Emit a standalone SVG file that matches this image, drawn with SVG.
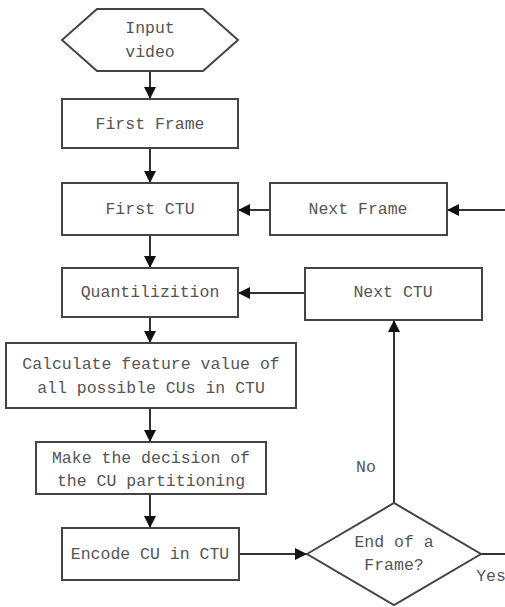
<svg xmlns="http://www.w3.org/2000/svg" width="505" height="607" viewBox="0 0 505 607">
<defs>
<marker id="arr" markerUnits="userSpaceOnUse" markerWidth="12" markerHeight="12" viewBox="0 0 12 12" refX="12" refY="6" orient="auto">
<path d="M0,0 L12,6 L0,12 Z" fill="#111"/>
</marker>
<style>
.box{fill:#fff;stroke:#444;stroke-width:2}
.t{font-family:"Liberation Mono",monospace;font-size:16.5px;fill:#555;text-anchor:middle}
.c{fill:none;stroke:#333;stroke-width:2}
</style>
</defs>
<rect width="505" height="607" fill="#fff"/>
<g id="connectors">
<line class="c" x1="150" y1="71" x2="150" y2="99" marker-end="url(#arr)"/>
<line class="c" x1="150" y1="148" x2="150" y2="183" marker-end="url(#arr)"/>
<line class="c" x1="150" y1="235" x2="150" y2="268" marker-end="url(#arr)"/>
<line class="c" x1="150" y1="317" x2="150" y2="343" marker-end="url(#arr)"/>
<line class="c" x1="150" y1="408" x2="150" y2="442" marker-end="url(#arr)"/>
<line class="c" x1="150" y1="494" x2="150" y2="528" marker-end="url(#arr)"/>
<line class="c" x1="239" y1="554" x2="307" y2="554" marker-end="url(#arr)"/>
<line class="c" x1="394" y1="503" x2="394" y2="320" marker-end="url(#arr)"/>
<line class="c" x1="481" y1="554" x2="505" y2="554"/>
<line class="c" x1="505" y1="210" x2="447" y2="210" marker-end="url(#arr)"/>
<line class="c" x1="270" y1="210" x2="238" y2="210" marker-end="url(#arr)"/>
<line class="c" x1="305" y1="293" x2="238" y2="293" marker-end="url(#arr)"/>
<text class="t" x="366" y="472">No</text>
<text class="t" x="491" y="581">Yes</text>
</g>
<g id="input">
<polygon class="box" points="62,40 97,9 203,9 238,40 203,71 97,71"/>
<text class="t" x="150" y="33">Input</text>
<text class="t" x="150" y="57">video</text>
</g>
<g id="first-frame">
<rect class="box" x="62" y="99" width="176" height="49"/>
<text class="t" x="150" y="129">First Frame</text>
</g>
<g id="first-ctu">
<rect class="box" x="62" y="183" width="176" height="52"/>
<text class="t" x="150" y="214">First CTU</text>
</g>
<g id="next-frame">
<rect class="box" x="270" y="183" width="177" height="52"/>
<text class="t" x="358" y="214">Next Frame</text>
</g>
<g id="quantilizition">
<rect class="box" x="62" y="268" width="176" height="49"/>
<text class="t" x="150" y="297">Quantilizition</text>
</g>
<g id="next-ctu">
<rect class="box" x="305" y="268" width="177" height="52"/>
<text class="t" x="393" y="297">Next CTU</text>
</g>
<g id="calculate">
<rect class="box" x="6" y="343" width="290" height="65"/>
<text class="t" x="151" y="369">Calculate feature value of</text>
<text class="t" x="151" y="393">all possible CUs in CTU</text>
</g>
<g id="decision">
<rect class="box" x="36" y="442" width="230" height="52"/>
<text class="t" x="151" y="463">Make the decision of</text>
<text class="t" x="151" y="486">the CU partitioning</text>
</g>
<g id="encode">
<rect class="box" x="62" y="528" width="177" height="52"/>
<text class="t" x="150" y="559">Encode CU in CTU</text>
</g>
<g id="end-frame">
<polygon class="box" points="307,554 394,503 481,554 394,605"/>
<text class="t" x="394" y="547">End of a</text>
<text class="t" x="394" y="570">Frame?</text>
</g>
</svg>
